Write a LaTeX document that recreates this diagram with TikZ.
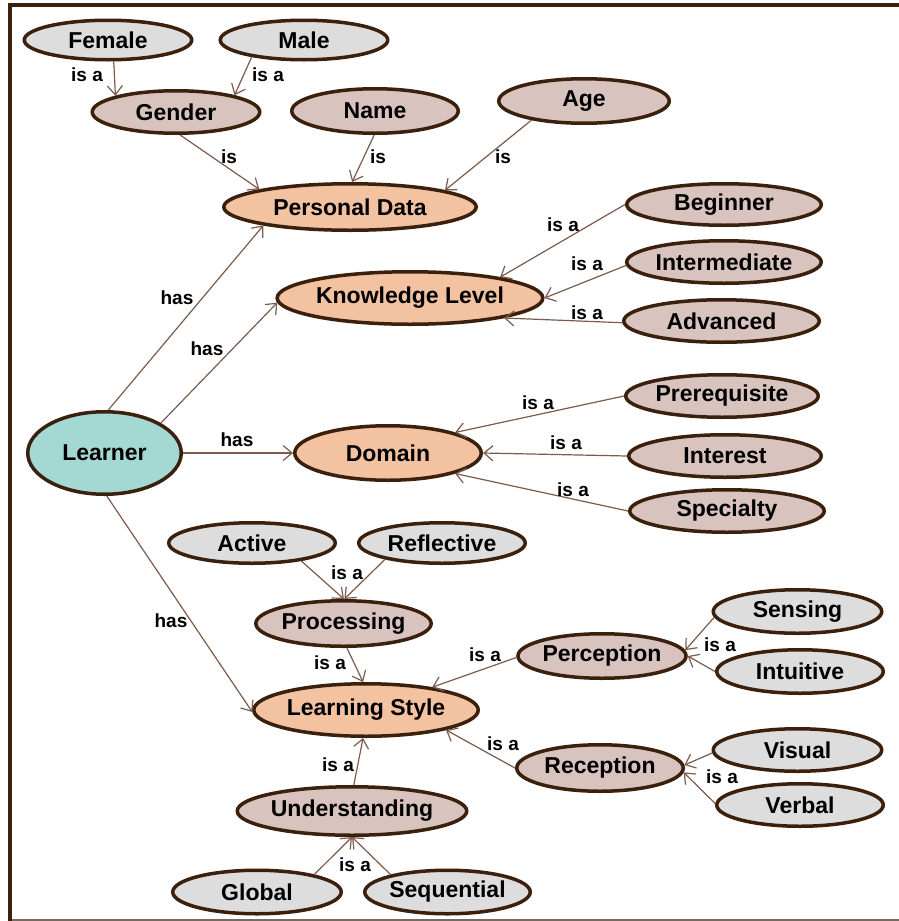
\documentclass[tikz,border=0pt]{standalone}
\usepackage{fontspec}
\setmainfont{Liberation Sans}
\usetikzlibrary{shapes.geometric,arrows.meta}
\definecolor{brd}{HTML}{3B200E}
\definecolor{grayf}{HTML}{DDDDDD}
\definecolor{mauve}{HTML}{D8C3BF}
\definecolor{peach}{HTML}{F2C2A1}
\definecolor{teal}{HTML}{A3D8D3}
\definecolor{edgec}{HTML}{7B5B4B}
\definecolor{botline}{HTML}{7A6A5E}
\tikzset{
  base/.style={ellipse, draw=brd, line width=3.5pt, inner sep=0pt, font=\fontsize{23}{23}\selectfont\bfseries, text=black},
  gn/.style={base, fill=grayf},
  mn/.style={base, fill=mauve},
  pn/.style={base, fill=peach},
  tn/.style={base, fill=teal},
  sz/.style 2 args={minimum width=#1pt, minimum height=#2pt},
  lbl/.style={font=\fontsize{19}{19}\selectfont\bfseries, inner sep=0pt, text=black},
  arr/.style={draw=edgec, line width=1.2pt, -{Straight Barb[length=9pt,width=15pt]}}
}
\begin{document}
\begin{tikzpicture}[x=1pt,y=-1pt]
\useasboundingbox (0,0) rectangle (899,921);
% frame
\draw[botline, line width=2pt] (9.5,920) -- (899,920);
\draw[brd, line width=4pt] (9.5,921) -- (9.5,5) -- (899,5);
% nodes
\node[gn, sz={167.5}{39.5}] (female) at (108,40) {Female};
\node[gn, sz={167.5}{39.5}] (male) at (304,40) {Male};
\node[mn, sz={167.5}{42.5}] (gender) at (176,112) {Gender};
\node[mn, sz={166.5}{44.5}] (name) at (375,111) {Name};
\node[mn, sz={170.5}{44.5}] (age) at (584,101) {Age};
\node[pn, sz={252.5}{46.5}] (pd) at (350,207) {Personal Data};
\node[mn, sz={194.5}{41.5}] (beg) at (724,204.5) {Beginner};
\node[mn, sz={194.5}{42.5}] (inter) at (724,262) {Intermediate};
\node[mn, sz={195.5}{42.5}] (adv) at (721.5,321) {Advanced};
\node[pn, sz={260.5}{52.5}] (kl) at (410,298) {Knowledge Level};
\node[mn, sz={192.5}{42.5}] (pre) at (722,396) {Prerequisite};
\node[mn, sz={192.5}{42.5}] (int) at (725,456) {Interest};
\node[mn, sz={194.5}{42.5}] (spec) at (727,511) {Specialty};
\node[pn, sz={186.5}{54.5}] (dom) at (388,453) {Domain};
\node[tn, sz={153.5}{82.5}] (learner) at (104.5,453) {Learner};
\node[gn, sz={166.5}{40.5}] (active) at (252,543) {Active};
\node[gn, sz={166.5}{40.5}] (refl) at (442,543) {Reflective};
\node[mn, sz={169.5}{45.5}] (proc) at (343.5,623.5) {Processing};
\node[pn, sz={224.5}{52.5}] (ls) at (366,710) {Learning Style};
\node[mn, sz={166.5}{44.5}] (perc) at (602,656) {Perception};
\node[gn, sz={168.5}{43.5}] (sens) at (797.5,611.5) {Sensing};
\node[gn, sz={166.5}{43.5}] (intu) at (800,671.5) {Intuitive};
\node[mn, sz={166.5}{46.5}] (rec) at (600,768) {Reception};
\node[gn, sz={168.5}{42.5}] (vis) at (797.5,750) {Visual};
\node[gn, sz={166.5}{42.5}] (verb) at (800,805) {Verbal};
\node[mn, sz={226.5}{48.5}] (und) at (352,811) {Understanding};
\node[gn, sz={168.5}{43.5}] (glob) at (257,892) {Global};
\node[gn, sz={165.5}{43.5}] (seq) at (447.5,892) {Sequential};
% edges
\draw[arr] (female.-75) -- (gender.165);
\draw[arr] (male.198) -- (gender.16);
\draw[arr] (gender.-80) -- (pd.169);
\draw[arr] (name.-92) -- (pd.85);
\draw[arr] (age.200) -- (pd.10);
\draw[arr] (learner.85) -- (pd.192);
\draw[arr] (learner.28) -- (kl.182);
\draw[arr] (learner.0) -- (dom.180);
\draw[arr] (learner.-87) -- (ls.181);
\draw[arr] (beg.180) -- (kl.13);
\draw[arr] (inter.182) -- (kl.0);
\draw[arr] (adv.181) -- (kl.-12);
\draw[arr] (pre.180) -- (dom.17);
\draw[arr] (int.180) -- (dom.0);
\draw[arr] (spec.180) -- (dom.-17);
\draw[arr] (active.-20) -- (proc.89);
\draw[arr] (refl.196) -- (proc.88);
\draw[arr] (proc.-82) -- (ls.96);
\draw[arr] (perc.181) -- (ls.19);
\draw[arr] (rec.180) -- (ls.-14);
\draw[arr] (und.86) -- (ls.-96);
\draw[arr] (glob.17) -- (und.-90);
\draw[arr] (seq.163) -- (und.-90);
\draw[arr] (sens.184) -- (perc.4);
\draw[arr] (intu.180) -- (perc.0);
\draw[arr] (vis.182) -- (rec.2);
\draw[arr] (verb.179) -- (rec.-3);
% labels
\node[lbl] (l1) at (87,75) {is a};
\node[lbl] (l2) at (268,75) {is a};
\node[lbl] (l3) at (229,157) {is};
\node[lbl] (l4) at (378,157) {is};
\node[lbl] (l5) at (503,157) {is};
\node[lbl] (l6) at (177,298) {has};
\node[lbl] (l7) at (207,349) {has};
\node[lbl] (l8) at (237,440) {has};
\node[lbl] (l9) at (171,621) {has};
\node[lbl] (l10) at (563,225) {is a};
\node[lbl] (l11) at (587,264) {is a};
\node[lbl] (l12) at (587,313) {is a};
\node[lbl] (l13) at (538,403) {is a};
\node[lbl] (l14) at (566,443) {is a};
\node[lbl] (l15) at (573,490) {is a};
\node[lbl] (l16) at (347,573) {is a};
\node[lbl] (l17) at (330,663) {is a};
\node[lbl] (l18) at (485,655) {is a};
\node[lbl] (l19) at (503,744) {is a};
\node[lbl] (l20) at (338,765) {is a};
\node[lbl] (l21) at (355,865) {is a};
\node[lbl] (l22) at (720,645) {is a};
\node[lbl] (l23) at (722,777) {is a};
\end{tikzpicture}
\end{document}
